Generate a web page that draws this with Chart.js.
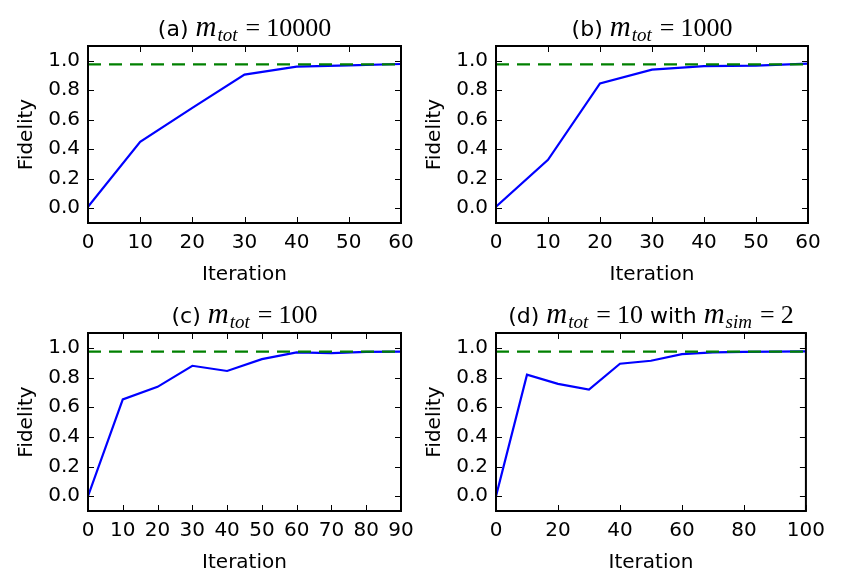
<!DOCTYPE html>
<html>
<head>
<meta charset="utf-8">
<script src="https://cdn.jsdelivr.net/npm/chart.js@4"></script>
<style>
  body { margin: 0; background: #fff; }
  #fig { position: relative; width: 843px; height: 587px; overflow: hidden; background: #fff; }
  #fig canvas { position: absolute; }
</style>
</head>
<body>
<div id="fig">
  <canvas id="chartA"></canvas>
  <canvas id="chartB"></canvas>
  <canvas id="chartC"></canvas>
  <canvas id="chartD"></canvas>
</div>
<script>
// fidelity target (green dashed line)
const threshold = 0.975;
const yTicks = [0.0, 0.2, 0.4, 0.6, 0.8, 1.0];

// (a) m_tot = 10000
const iterA = [0, 10, 20, 30, 40, 50, 60];
const fidA = [0.01, 0.45, 0.68, 0.906, 0.96, 0.969, 0.978];
const xTicksA = [0, 10, 20, 30, 40, 50, 60];

// (b) m_tot = 1000
const iterB = [0, 10, 20, 30, 40, 50, 60];
const fidB = [0.01, 0.328, 0.846, 0.94, 0.964, 0.967, 0.98];
const xTicksB = [0, 10, 20, 30, 40, 50, 60];

// (c) m_tot = 100
const iterC = [0, 10, 20, 30, 40, 50, 60, 70, 80, 90];
const fidC = [0.0, 0.652, 0.737, 0.879, 0.844, 0.924, 0.969, 0.964, 0.973, 0.975];
const xTicksC = [0, 10, 20, 30, 40, 50, 60, 70, 80, 90];

// (d) m_tot = 10 with m_sim = 2
const iterD = [0, 10, 20, 30, 40, 50, 60, 70, 80, 90, 100];
const fidD = [0.0, 0.819, 0.757, 0.719, 0.893, 0.913, 0.958, 0.969, 0.973, 0.975, 0.976];
const xTicksD = [0, 20, 40, 60, 80, 100];

// titles: [text, kind]
const titleA = [['(a) ', 'sans'], ['m', 'var'], ['tot', 'sub'], ['=', 'op'], ['10000', 'num']];
const titleB = [['(b) ', 'sans'], ['m', 'var'], ['tot', 'sub'], ['=', 'op'], ['1000', 'num']];
const titleC = [['(c) ', 'sans'], ['m', 'var'], ['tot', 'sub'], ['=', 'op'], ['100', 'num']];
const titleD = [['(d) ', 'sans'], ['m', 'var'], ['tot', 'sub'], ['=', 'op'], ['10', 'num'],
                [' with ', 'sans'], ['m', 'var'], ['sim', 'sub'], ['=', 'op'], ['2', 'num']];

const SANS = '"DejaVu Sans", sans-serif';
const SERIF = '"Liberation Serif", serif';
const titleFonts = {
    sans: { font: '22px ' + SANS, dy: 0, before: 0, after: 0 },
    var: { font: 'italic 29px ' + SERIF, dy: 0, before: 0, after: 1 },
    sub: { font: 'italic 19px ' + SERIF, dy: 5, before: 0, after: 0 },
    op: { font: '26px ' + SERIF, dy: 0, before: 8, after: 6 },
    num: { font: '26px ' + SERIF, dy: 0, before: 0, after: 0 }
};

const mathTitle = {
    id: 'mathTitle',
    afterDraw(chart, args, opts) {
        const ctx = chart.ctx;
        const a = chart.chartArea;
        ctx.save();
        ctx.textBaseline = 'alphabetic';
        ctx.fillStyle = '#000';
        let total = 0;
        opts.parts.forEach(p => {
            const f = titleFonts[p[1]];
            ctx.font = f.font;
            total += f.before + ctx.measureText(p[0]).width + f.after;
        });
        let x = (a.left + a.right) / 2 - total / 2;
        const base = a.top - 10;
        opts.parts.forEach(p => {
            const f = titleFonts[p[1]];
            ctx.font = f.font;
            x += f.before;
            ctx.fillText(p[0], x, base + f.dy);
            x += ctx.measureText(p[0]).width + f.after;
        });
        ctx.restore();
    }
};

// matplotlib-classic box with inward ticks on all four sides
const frame = {
    id: 'frame',
    afterDatasetsDraw(chart) {
        const { ctx, chartArea: a, scales: { x, y } } = chart;
        ctx.save();
        ctx.strokeStyle = '#000';
        ctx.lineWidth = 1;
        ctx.beginPath();
        x.ticks.forEach(t => {
            const px = Math.round(x.getPixelForValue(t.value)) + 0.5;
            ctx.moveTo(px, a.bottom); ctx.lineTo(px, a.bottom - 6);
            ctx.moveTo(px, a.top); ctx.lineTo(px, a.top + 6);
        });
        y.ticks.forEach(t => {
            const py = Math.round(y.getPixelForValue(t.value)) + 0.5;
            ctx.moveTo(a.left, py); ctx.lineTo(a.left + 6, py);
            ctx.moveTo(a.right, py); ctx.lineTo(a.right - 6, py);
        });
        ctx.stroke();
        ctx.lineWidth = 2;
        ctx.strokeRect(a.left, a.top, a.right - a.left, a.bottom - a.top);
        ctx.restore();
    }
};

function makePanel(id, box, iters, fids, xTicks, title) {
    const canvas = document.getElementById(id);
    const left = 88, top = 46, right = 25, bottom = 70;
    canvas.width = box.w + left + right;
    canvas.height = box.h + top + bottom;
    canvas.style.left = (box.x - left) + 'px';
    canvas.style.top = (box.y - top) + 'px';

    const xMax = xTicks[xTicks.length - 1];
    const line = iters.map((v, i) => ({ x: v, y: fids[i] }));
    const target = [{ x: 0, y: threshold }, { x: xMax, y: threshold }];
    const tickFont = { family: SANS, size: 20 };

    new Chart(canvas.getContext('2d'), {
        type: 'line',
        data: {
            datasets: [{
                data: target,
                borderColor: '#008000',
                borderWidth: 2.2,
                borderDash: [13, 8],
                pointRadius: 0,
                order: 1
            }, {
                data: line,
                borderColor: '#0000ff',
                borderWidth: 2.2,
                pointRadius: 0,
                tension: 0,
                order: 2
            }]
        },
        options: {
            responsive: false,
            animation: false,
            devicePixelRatio: 1,
            layout: { padding: { top: top, right: right, left: 0, bottom: 0 } },
            plugins: {
                legend: { display: false },
                tooltip: { enabled: false },
                mathTitle: { parts: title }
            },
            scales: {
                x: {
                    type: 'linear',
                    min: 0,
                    max: xMax,
                    afterBuildTicks: s => { s.ticks = xTicks.map(v => ({ value: v })); },
                    afterFit: s => { s.height = bottom; },
                    grid: { display: false, drawTicks: false },
                    border: { display: false },
                    ticks: { font: tickFont, color: '#000', padding: 8, maxRotation: 0, autoSkip: false,
                             callback: v => String(v) },
                    title: { display: true, text: 'Iteration', font: tickFont, color: '#000',
                             padding: { top: 0, bottom: 6 } }
                },
                y: {
                    type: 'linear',
                    min: -0.1,
                    max: 1.1,
                    afterBuildTicks: s => { s.ticks = yTicks.map(v => ({ value: v })); },
                    afterFit: s => { s.width = left; },
                    grid: { display: false, drawTicks: false },
                    border: { display: false },
                    ticks: { font: tickFont, color: '#000', padding: 8, callback: v => v.toFixed(1) },
                    title: { display: true, text: 'Fidelity', font: tickFont, color: '#000',
                             padding: { top: 15, bottom: 0 } }
                }
            }
        },
        plugins: [frame, mathTitle]
    });
}

makePanel('chartA', { x: 88, y: 46, w: 313, h: 177 }, iterA, fidA, xTicksA, titleA);
makePanel('chartB', { x: 496, y: 46, w: 312, h: 177 }, iterB, fidB, xTicksB, titleB);
makePanel('chartC', { x: 88, y: 333, w: 313, h: 178 }, iterC, fidC, xTicksC, titleC);
makePanel('chartD', { x: 496, y: 333, w: 312, h: 178 }, iterD, fidD, xTicksD, titleD);
</script>
</body>
</html>
